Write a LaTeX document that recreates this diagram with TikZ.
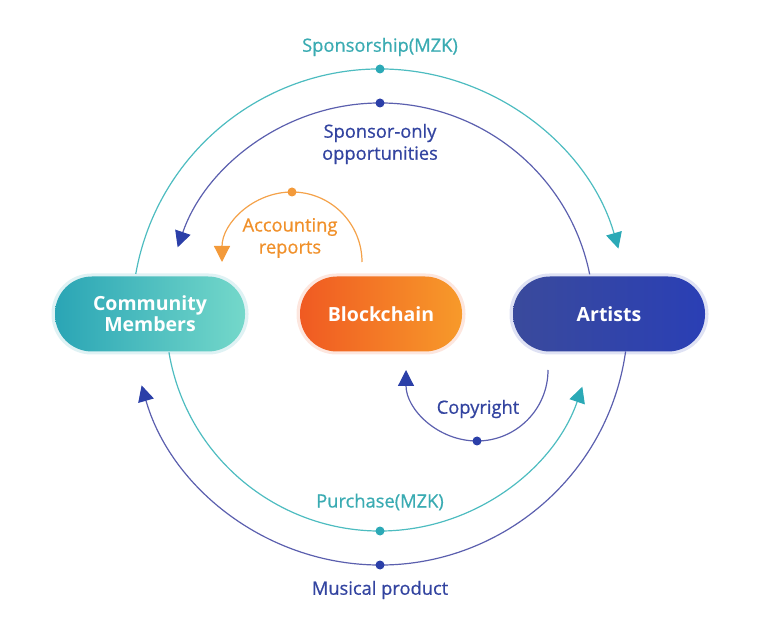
\documentclass[tikz,border=0pt]{standalone}
\usepackage{fontspec}
\setmainfont{Open Sans}
\newfontfamily\labfont[FakeBold=0.7]{Open Sans}
\usetikzlibrary{arrows.meta}
\definecolor{tealA}{HTML}{2AA5B5}
\definecolor{tealB}{HTML}{74D8CA}
\definecolor{orgA}{HTML}{F05A22}
\definecolor{orgB}{HTML}{F79A2A}
\definecolor{bluA}{HTML}{3A4A9C}
\definecolor{bluB}{HTML}{2A3FB5}
\definecolor{tealL}{HTML}{4DBCC0}
\definecolor{bluL}{HTML}{5B5FAE}
\definecolor{orgL}{HTML}{F4A24A}
\definecolor{tealT}{HTML}{3AABB2}
\definecolor{bluT}{HTML}{3344A0}
\definecolor{orgT}{HTML}{F0902A}
\definecolor{tealH}{HTML}{2BA9B6}
\definecolor{bluH}{HTML}{2B3FA8}
\definecolor{orgH}{HTML}{F39A3A}
\tikzset{
  pill/.style={rounded corners=37pt, minimum height=75pt, text=white,
    font=\bfseries\fontsize{19.5}{23}\selectfont, align=center, inner sep=0pt},
  halo/.style={rounded corners=40pt, minimum height=81pt, inner sep=0pt, fill=#1, opacity=0.15},
  lbl/.style={font=\labfont\fontsize{18.3}{22}\selectfont, align=center, inner sep=0pt},
  arcline/.style={line width=1.2pt, draw=#1},
  tipT/.style={-{Triangle[length=16pt,width=16pt,fill=#1,color=#1]}},
  dotty/.style={circle, fill=#1, inner sep=0pt, minimum size=9pt}
}
\begin{document}
\begin{tikzpicture}[x=1pt,y=1pt]
\useasboundingbox (0,0) rectangle (760,640);
\coordinate (C) at (380,323);
\coordinate (Ac) at (292,378);
\coordinate (Cc) at (477,270);
% arcs
\path (C) ++(170:248) coordinate (s1);
\path (C) ++(11.5:214) coordinate (s2);
\path (C) ++(189.5:214) coordinate (s3);
\path (C) ++(-8:248) coordinate (s4);
\path (Ac) ++(0:70) coordinate (s5);
\path (Cc) ++(0:71) coordinate (s6);
\draw[arcline=tealL, tipT=tealH] (s1) arc[start angle=170, end angle=16, radius=248];
\draw[arcline=bluL, tipT=bluH] (s2) arc[start angle=11.5, end angle=161, radius=214];
\draw[arcline=tealL, tipT=tealH] (s3) arc[start angle=189.5, end angle=341, radius=214];
\draw[arcline=bluL, tipT=bluH] (s4) arc[start angle=-8, end angle=-164, radius=248];
\draw[arcline=orgL, tipT=orgH] (s5) arc[start angle=0, end angle=180, radius=70];
\draw[arcline=bluL, tipT=bluH] (s6) arc[start angle=0, end angle=-180, radius=71];
% dots
\path (C) ++(90:248) node[dotty=tealH] (d1) {};
\path (C) ++(90:214) node[dotty=bluH] (d2) {};
\path (C) ++(-90:214) node[dotty=tealH] (d3) {};
\path (C) ++(-90:248) node[dotty=bluH] (d4) {};
\path (Ac) ++(90:70) node[dotty=orgH] (d5) {};
\path (Cc) ++(-90:71) node[dotty=bluH] (d6) {};
% nodes
\node[halo=tealA, minimum width=197pt] (hcm) at (150,326) {};
\node[halo=orgA, minimum width=169pt] (hbc) at (381,326) {};
\node[halo=bluB, minimum width=199pt] (har) at (609,326) {};
\node[pill, minimum width=190pt, left color=tealA, right color=tealB] (cm) at (150,326) {Community\\[-2pt]Members};
\node[pill, minimum width=162pt, left color=orgA, right color=orgB] (bc) at (381,326) {Blockchain};
\node[pill, minimum width=192pt, left color=bluA, right color=bluB] (ar) at (609,326) {Artists};
% labels
\node[lbl, text=tealT] (l1) at (380,593) {Sponsorship(MZK)};
\node[lbl, text=bluT] (l2) at (380,496) {Sponsor-only\\opportunities};
\node[lbl, text=orgT] (l3) at (290,402) {Accounting\\reports};
\node[lbl, text=bluT] (l4) at (478,231) {Copyright};
\node[lbl, text=tealT] (l5) at (380,138) {Purchase(MZK)};
\node[lbl, text=bluT] (l6) at (380,50) {Musical product};
\end{tikzpicture}
\end{document}
